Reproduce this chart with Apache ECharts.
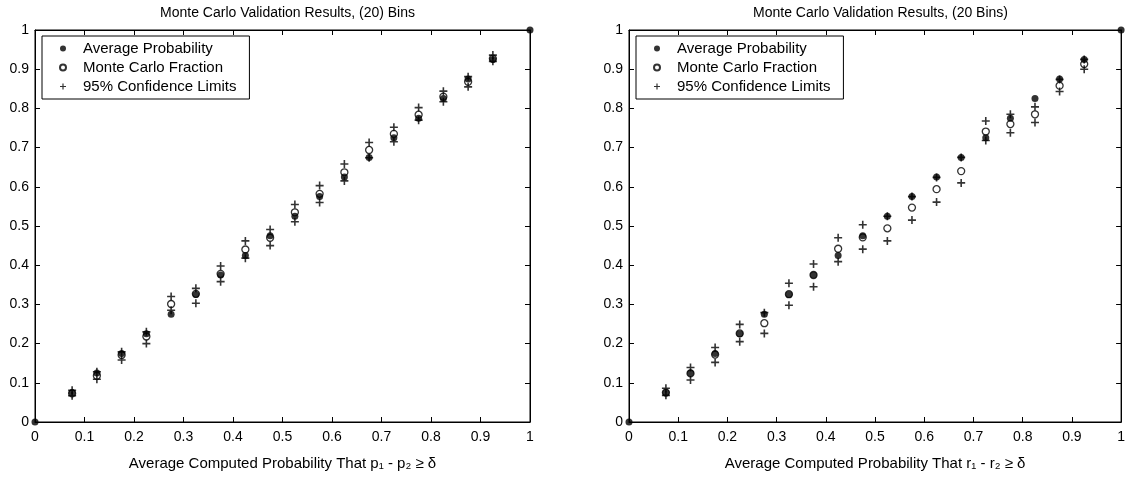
<!DOCTYPE html>
<html>
<head>
<meta charset="utf-8">
<script src="https://cdn.jsdelivr.net/npm/echarts@6/dist/echarts.min.js"></script>
<style>
html,body{margin:0;padding:0;background:#fff;}
#chart{width:1128px;height:482px;}
</style>
</head>
<body>
<div id="chart"></div>
<script>
// ---- data ----
const titles = ['Monte Carlo Validation Results, (20) Bins', 'Monte Carlo Validation Results, (20 Bins)'];
const xNames = ['Average Computed Probability That p\u2081 - p\u2082 \u2265 \u03b4', 'Average Computed Probability That r\u2081 - r\u2082 \u2265 \u03b4'];
const legendNames = ['Average Probability', 'Monte Carlo Fraction', '95% Confidence Limits'];

// average computed probability per bin (x and y of the filled dots)
const avgProb = [0, 0.075, 0.125, 0.175, 0.225, 0.275, 0.325, 0.375, 0.425, 0.475, 0.525, 0.575, 0.625, 0.675, 0.725, 0.775, 0.825, 0.875, 0.925, 1.0];

// left plot (p1 - p2)
const leftMC    = [null, 0.073, 0.118, 0.171, 0.218, 0.301, 0.327, 0.378, 0.440, 0.470, 0.535, 0.582, 0.637, 0.694, 0.735, 0.784, 0.830, 0.868, 0.927, null];
const leftUpper = [null, 0.081, 0.128, 0.179, 0.230, 0.320, 0.341, 0.398, 0.462, 0.491, 0.555, 0.603, 0.658, 0.713, 0.752, 0.802, 0.844, 0.881, 0.936, null];
const leftLower = [null, 0.067, 0.109, 0.158, 0.200, 0.285, 0.303, 0.358, 0.418, 0.450, 0.511, 0.560, 0.615, 0.674, 0.715, 0.770, 0.817, 0.855, 0.920, null];

// right plot (r1 - r2)
const rightMC    = [null, 0.075, 0.124, 0.172, 0.226, 0.252, 0.326, 0.375, 0.442, 0.471, 0.494, 0.547, 0.594, 0.640, 0.741, 0.760, 0.785, 0.858, 0.913, null];
const rightUpper = [null, 0.086, 0.139, 0.190, 0.249, 0.279, 0.354, 0.403, 0.470, 0.503, 0.525, 0.575, 0.624, 0.675, 0.768, 0.785, 0.804, 0.874, 0.925, null];
const rightLower = [null, 0.068, 0.107, 0.152, 0.205, 0.226, 0.298, 0.345, 0.409, 0.441, 0.462, 0.515, 0.561, 0.610, 0.718, 0.738, 0.764, 0.843, 0.900, null];

const panels = [
  {mc: leftMC, upper: leftUpper, lower: leftLower},
  {mc: rightMC, upper: rightUpper, lower: rightLower}
];

// ---- chart ----
const FONT = '"Liberation Sans", Arial, sans-serif';
const PLUS = 'path://M4,0H6V4H10V6H6V10H4V6H0V4H4Z';
const gridsPos = [
  {left: 35, top: 30, width: 495, height: 392},
  {left: 629, top: 30, width: 493, height: 392}
];

function pairs(xs, ys) {
  const out = [];
  xs.forEach((x, i) => { if (ys[i] !== null && ys[i] !== undefined) out.push([x, ys[i]]); });
  return out;
}

const grid = gridsPos.map(g => Object.assign({show: true, borderColor: '#000', borderWidth: 1, backgroundColor: '#fff'}, g));

const xAxis = [], yAxis = [], series = [], title = [], legend = [];
gridsPos.forEach((g, i) => {
  const common = {
    type: 'value', min: 0, max: 1, interval: 0.1, gridIndex: i,
    axisLine: {show: true, onZero: false, lineStyle: {color: '#000', width: 1}},
    axisTick: {show: true, inside: true, length: 5, lineStyle: {color: '#000'}},
    splitLine: {show: false}
  };
  xAxis.push(Object.assign({}, common, {
    position: 'bottom',
    axisLabel: {color: '#000', fontFamily: FONT, fontSize: 14, margin: 8},
    name: xNames[i], nameLocation: 'middle', nameGap: 34,
    nameTextStyle: {color: '#000', fontFamily: FONT, fontSize: 15}
  }));
  xAxis.push(Object.assign({}, common, {position: 'top', axisLabel: {show: false}}));
  yAxis.push(Object.assign({}, common, {
    position: 'left',
    axisLabel: {color: '#000', fontFamily: FONT, fontSize: 14, margin: 6}
  }));
  yAxis.push(Object.assign({}, common, {position: 'right', axisLabel: {show: false}}));

  title.push({
    text: titles[i], left: g.left + g.width / 2, top: 1, textAlign: 'center',
    textStyle: {color: '#000', fontFamily: FONT, fontSize: 14, fontWeight: 'normal'}
  });

  legend.push({
    left: g.left + 7, top: 36, orient: 'vertical',
    data: legendNames,
    itemWidth: 30, itemHeight: 6, itemGap: 4,
    padding: [5, 13, 5, 17],
    borderColor: '#000', borderWidth: 1, borderRadius: 0,
    backgroundColor: '#fff',
    selectedMode: false,
    textStyle: {color: '#000', fontFamily: FONT, fontSize: 15}
  });

  const p = panels[i];
  const xi = i * 2, yi = i * 2;
  series.push({
    name: legendNames[2], type: 'scatter', xAxisIndex: xi, yAxisIndex: yi, clip: false, z: 5,
    symbol: PLUS, symbolSize: 8, itemStyle: {color: '#000'},
    data: pairs(avgProb, p.upper).concat(pairs(avgProb, p.lower))
  });
  series.push({
    name: legendNames[1], type: 'scatter', xAxisIndex: xi, yAxisIndex: yi, clip: false, z: 5,
    symbol: 'circle', symbolSize: 7,
    itemStyle: {color: 'rgba(0,0,0,0)', borderColor: '#000', borderWidth: 1.3},
    data: pairs(avgProb, p.mc)
  });
  series.push({
    name: legendNames[0], type: 'scatter', xAxisIndex: xi, yAxisIndex: yi, clip: false, z: 5,
    symbol: 'circle', symbolSize: 7, itemStyle: {color: '#000'},
    data: pairs(avgProb, avgProb)
  });
});

const chart = echarts.init(document.getElementById('chart'), null, {renderer: 'canvas'});
chart.setOption({
  animation: false,
  backgroundColor: '#fff',
  title: title, legend: legend, grid: grid,
  xAxis: xAxis, yAxis: yAxis, series: series
});
</script>
</body>
</html>
